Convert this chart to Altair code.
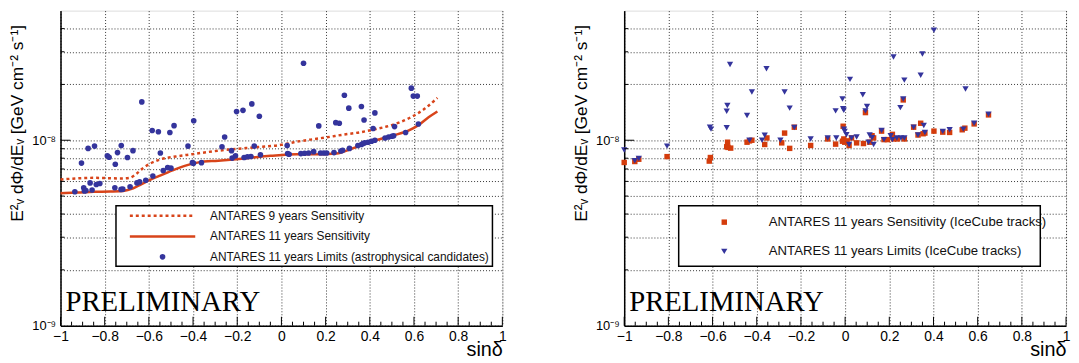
import altair as alt
import pandas as pd

# ---------------- data ----------------
# left panel: ANTARES 9 years sensitivity (dotted)
sens9_x = [-1.0, -0.85, -0.72, -0.686, -0.656, -0.627, -0.597, -0.553, -0.479, -0.404,
           -0.33, -0.256, -0.108, 0.0, 0.0565, 0.131, 0.205, 0.28, 0.354, 0.428,
           0.503, 0.577, 0.651, 0.706]
sens9_y = [6.14e-9, 6.27e-9, 6.22e-9, 6.27e-9, 6.6e-9, 7.07e-9, 7.45e-9, 7.85e-9, 8.17e-9, 8.41e-9,
           8.65e-9, 8.86e-9, 9.19e-9, 9.45e-9, 9.76e-9, 1.008e-8, 1.037e-8, 1.072e-8, 1.103e-8, 1.149e-8,
           1.211e-8, 1.314e-8, 1.486e-8, 1.693e-8]
# left panel: ANTARES 11 years sensitivity (solid)
sens11_x = [-1.0, -0.923, -0.849, -0.775, -0.716, -0.671, -0.641, -0.597, -0.553, -0.493,
            -0.434, -0.375, -0.286, -0.167, -0.049, 0.07, 0.131, 0.25, 0.309, 0.369,
            0.428, 0.503, 0.577, 0.622, 0.666, 0.706]
sens11_y = [5.18e-9, 5.22e-9, 5.27e-9, 5.29e-9, 5.33e-9, 5.51e-9, 5.73e-9, 6.09e-9, 6.42e-9, 6.88e-9,
            7.3e-9, 7.6e-9, 7.76e-9, 7.98e-9, 8.24e-9, 8.41e-9, 8.39e-9, 8.49e-9, 8.92e-9, 9.48e-9,
            1.0e-8, 1.059e-8, 1.13e-8, 1.21e-8, 1.33e-8, 1.43e-8]
# left panel: ANTARES 11 years limits (astrophysical candidates)
lim_x = [-0.935, -0.905, -0.895, -0.892, -0.885, -0.875, -0.866, -0.857, -0.846, -0.838,
         -0.822, -0.788, -0.78, -0.754, -0.752, -0.742, -0.726, -0.725, -0.718, -0.697,
         -0.685, -0.672, -0.654, -0.642, -0.632, -0.614, -0.585, -0.582, -0.557, -0.548,
         -0.535, -0.515, -0.505, -0.5, -0.486, -0.423, -0.403, -0.398, -0.397, -0.362,
         -0.269, -0.257, -0.226, -0.223, -0.208, -0.203, -0.174, -0.169, -0.154, -0.138,
         -0.134, -0.123, -0.1, -0.095, 0.026, 0.028, 0.035, 0.088, 0.1, 0.105,
         0.123, 0.146, 0.169, 0.177, 0.192, 0.205, 0.238, 0.246, 0.262, 0.269,
         0.277, 0.285, 0.305, 0.308, 0.346, 0.362, 0.362, 0.369, 0.374, 0.377,
         0.392, 0.408, 0.415, 0.423, 0.423, 0.469, 0.485, 0.5, 0.508, 0.512,
         0.562, 0.588, 0.597, 0.615, 0.62]
lim_y = [5.28e-9, 7.53e-9, 5.54e-9, 5.32e-9, 5.35e-9, 9.04e-9, 5.89e-9, 5.39e-9, 9.3e-9, 5.77e-9,
         5.84e-9, 8.24e-9, 8.1e-9, 5.54e-9, 7.42e-9, 8.58e-9, 5.43e-9, 9.37e-9, 5.45e-9, 8.07e-9,
         5.61e-9, 8.79e-9, 5.89e-9, 5.96e-9, 1.61e-8, 6.08e-9, 1.129e-8, 6.41e-9, 1.111e-8, 8.54e-9,
         6.87e-9, 7.12e-9, 1.102e-8, 7.07e-9, 1.199e-8, 9.3e-9, 7.57e-9, 7.51e-9, 1.274e-8, 7.57e-9,
         9.22e-9, 1.041e-8, 8.79e-9, 8.01e-9, 8.24e-9, 1.427e-8, 1.45e-8, 8.07e-9, 8.14e-9, 8.17e-9,
         1.57e-8, 9.3e-9, 1.348e-8, 8.34e-9, 9.37e-9, 8.47e-9, 8.41e-9, 8.47e-9, 2.6e-8, 8.51e-9,
         8.54e-9, 8.68e-9, 1.195e-8, 8.54e-9, 8.54e-9, 8.54e-9, 8.58e-9, 1.244e-8, 1.234e-8, 8.75e-9,
         8.82e-9, 1.75e-8, 1.49e-8, 9.04e-9, 9.37e-9, 9.49e-9, 1.52e-8, 9.6e-9, 1.285e-8, 9.68e-9,
         9.76e-9, 9.88e-9, 1.157e-8, 1.0e-8, 1.404e-8, 1.029e-8, 1.041e-8, 1.05e-8, 1.058e-8, 1.185e-8,
         1.102e-8, 1.91e-8, 1.73e-8, 1.73e-8, 1.224e-8]

# right panel: ANTARES 11 years sensitivity (IceCube tracks)
ic_sens_x = [-1.0, -0.952, -0.934, -0.806, -0.615, -0.61, -0.536, -0.532, -0.53, -0.518,
             -0.444, -0.433, -0.422, -0.364, -0.354, -0.287, -0.274, -0.251, -0.23, -0.156,
             -0.079, -0.043, -0.012, -0.009, -0.006, -0.002, 0.009, 0.018, 0.029, 0.052,
             0.083, 0.092, 0.111, 0.122, 0.129, 0.165, 0.176, 0.191, 0.214, 0.219,
             0.237, 0.263, 0.268, 0.31, 0.33, 0.342, 0.353, 0.361, 0.402, 0.442,
             0.473, 0.53, 0.542, 0.584, 0.649]
ic_sens_y = [7.59e-9, 7.68e-9, 7.9e-9, 8.16e-9, 7.72e-9, 8.07e-9, 9.22e-9, 9.76e-9, 9.15e-9, 9.07e-9,
             9.76e-9, 9.92e-9, 1.0e-8, 9.49e-9, 1.029e-8, 9.68e-9, 1.093e-8, 9.04e-9, 1.176e-8, 9.37e-9,
             1.016e-8, 9.53e-9, 9.88e-9, 1.19e-8, 1.016e-8, 9.76e-9, 9.92e-9, 9.37e-9, 1.029e-8, 9.68e-9,
             9.6e-9, 1.41e-8, 9.76e-9, 1.058e-8, 1.029e-8, 1.12e-8, 1.008e-8, 1.008e-8, 1.076e-8, 1.016e-8,
             1.016e-8, 1.65e-8, 1.016e-8, 1.176e-8, 1.067e-8, 1.235e-8, 1.084e-8, 1.093e-8, 1.12e-8, 1.106e-8,
             1.102e-8, 1.139e-8, 1.162e-8, 1.225e-8, 1.37e-8]
# right panel: ANTARES 11 years limits (IceCube tracks)
ic_lim_x = [-1.0, -0.952, -0.934, -0.806, -0.612, -0.607, -0.536, -0.533, -0.536, -0.521,
            -0.444, -0.433, -0.422, -0.376, -0.364, -0.356, -0.293, -0.274, -0.251, -0.23,
            -0.156, -0.079, -0.043, -0.04, -0.012, -0.009, -0.006, -0.005, -0.002, 0.006,
            0.018, 0.022, 0.029, 0.052, 0.08, 0.092, 0.099, 0.106, 0.111, 0.122,
            0.129, 0.165, 0.176, 0.206, 0.214, 0.219, 0.234, 0.25, 0.253, 0.263,
            0.268, 0.268, 0.31, 0.33, 0.342, 0.35, 0.356, 0.361, 0.402, 0.442,
            0.473, 0.545, 0.535, 0.584, 0.649]
ic_lim_y = [8.85e-9, 7.75e-9, 7.97e-9, 9.3e-9, 1.176e-8, 1.148e-8, 1.435e-8, 1.54e-8, 1.167e-8, 2.56e-8,
            1.36e-8, 1.0e-8, 1.82e-8, 1.0e-8, 1.063e-8, 2.43e-8, 1.0e-8, 1.82e-8, 1.49e-8, 1.171e-8,
            1.016e-8, 1.029e-8, 1.44e-8, 1.029e-8, 1.67e-8, 1.48e-8, 1.45e-8, 1.148e-8, 1.116e-8, 1.071e-8,
            9.49e-9, 2.13e-8, 1.029e-8, 1.041e-8, 1.76e-8, 1.44e-8, 1.52e-8, 9.76e-9, 1.067e-8, 1.033e-8,
            9.49e-9, 1.129e-8, 1.008e-8, 1.058e-8, 1.008e-8, 2.81e-8, 1.029e-8, 1.5e-8, 1.029e-8, 1.67e-8,
            2.11e-8, 1.029e-8, 1.176e-8, 1.067e-8, 2.24e-8, 2.92e-8, 1.2e-8, 1.102e-8, 3.92e-8, 1.116e-8,
            1.139e-8, 1.89e-8, 1.148e-8, 1.235e-8, 1.38e-8]

# axis tick values and texts
x_major = [-1.0, -0.8, -0.6, -0.4, -0.2, 0.0, 0.2, 0.4, 0.6, 0.8, 1.0]
x_minor = [round(-1 + 0.05 * i, 2) for i in range(41) if i % 4 != 0]
y_values = [1e-9, 2e-9, 3e-9, 4e-9, 5e-9, 6e-9, 7e-9, 8e-9, 9e-9,
            1e-8, 2e-8, 3e-8, 4e-8]
y_minor = [2e-9, 3e-9, 4e-9, 5e-9, 6e-9, 7e-9, 8e-9, 9e-9, 2e-8, 3e-8, 4e-8]
y_major = [1e-8]
y_title = "E²ᵥ dΦ/dEᵥ [GeV cm⁻² s⁻¹]"
x_title = "sinδ"
left_legend = ["ANTARES 9 years Sensitivity",
               "ANTARES 11 years Sensitivity",
               "ANTARES 11 years Limits (astrophysical candidates)"]
right_legend = ["ANTARES 11 years Sensitivity (IceCube tracks)",
                "ANTARES 11 years Limits (IceCube tracks)"]
watermark = "PRELIMINARY"

# ---------------- style ----------------
W, H = 446, 318
FONT = "Liberation Sans"
NAVY = "#34349c"
RED = "#d8441a"
SQ = "#d43c0c"

xsc = alt.Scale(domain=[-1, 1], nice=False, zero=False)
ysc = alt.Scale(type="log", domain=[1e-9, 5e-8], nice=False)

xaxis = alt.Axis(values=x_major, format=".1~f", grid=True, gridDash=[1, 2], gridColor="#000",
                 gridOpacity=0.8, ticks=False, domainColor="#000", domainWidth=1.5,
                 labelFont=FONT, labelFontSize=14, labelColor="#000", labelPadding=4,
                 labelFlush=False, labelOverlap=False,
                 title=x_title, titleFont=FONT, titleFontSize=20, titleFontWeight="normal",
                 titleColor="#000", titleAlign="right", titleBaseline="alphabetic",
                 titleX=W, titleY=30)

ylabel_expr = ("abs(log(datum.value)/LN10 + 8) < 0.01 ? '10⁻⁸' : "
               "(abs(log(datum.value)/LN10 + 9) < 0.01 ? '10⁻⁹' : '')")
yaxis = alt.Axis(values=y_values, labelExpr=ylabel_expr, grid=True, gridDash=[1, 2],
                 gridColor="#000", gridOpacity=0.8, ticks=False, domainColor="#000",
                 domainWidth=1.5, labelFont=FONT, labelFontSize=13, labelColor="#000",
                 labelPadding=5, labelOverlap=False,
                 title=y_title, titleFont=FONT, titleFontSize=17.5, titleFontWeight="normal",
                 titleColor="#000", titleAngle=270, titleAlign="right", titleBaseline="middle",
                 titleX=-43, titleY=14)

one = pd.DataFrame({"k": [0]})


def X(field):
    return alt.X(f"{field}:Q", scale=xsc, axis=xaxis)


def Y(field):
    return alt.Y(f"{field}:Q", scale=ysc, axis=yaxis)


def frame_layers():
    xmin = alt.Chart(pd.DataFrame({"v": x_minor})).mark_rule(color="#000", strokeWidth=1).encode(
        x=X("v"), y=alt.value(H), y2=alt.value(H - 4))
    xmaj = alt.Chart(pd.DataFrame({"v": x_major})).mark_rule(color="#000", strokeWidth=1).encode(
        x=X("v"), y=alt.value(H), y2=alt.value(H - 9))
    ymin = alt.Chart(pd.DataFrame({"v": y_minor})).mark_rule(color="#000", strokeWidth=1).encode(
        y=Y("v"), x=alt.value(0), x2=alt.value(4))
    ymaj = alt.Chart(pd.DataFrame({"v": y_major})).mark_rule(color="#000", strokeWidth=1).encode(
        y=Y("v"), x=alt.value(0), x2=alt.value(10))
    prelim = alt.Chart(one).mark_text(font="Liberation Serif", fontSize=29, align="left",
                                      baseline="alphabetic", color="#000").encode(
        x=alt.value(5), y=alt.value(H - 15), text=alt.value(watermark))
    return [xmin, xmaj, ymin, ymaj, prelim]


def legend_box(x0, x1, y0, y1):
    return alt.Chart(one).mark_rect(fill="white", stroke="#000", strokeWidth=1.5).encode(
        x=alt.value(x0), x2=alt.value(x1), y=alt.value(y0), y2=alt.value(y1))


def legend_text(label, x, y, size):
    return alt.Chart(one).mark_text(font=FONT, fontSize=size, align="left", baseline="middle",
                                    color="#111").encode(
        x=alt.value(x), y=alt.value(y), text=alt.value(label))


# ---------------- left panel ----------------
df9 = pd.DataFrame({"x": sens9_x, "y": sens9_y})
df11 = pd.DataFrame({"x": sens11_x, "y": sens11_y})
dflim = pd.DataFrame({"x": lim_x, "y": lim_y})

line9 = alt.Chart(df9).mark_line(color=RED, strokeWidth=2.5, strokeDash=[3, 3],
                                 interpolate="monotone").encode(x=X("x"), y=Y("y"))
line11 = alt.Chart(df11).mark_line(color=RED, strokeWidth=2.5,
                                   interpolate="monotone").encode(x=X("x"), y=Y("y"))
dots = alt.Chart(dflim).mark_circle(color=NAVY, size=32, opacity=1).encode(x=X("x"), y=Y("y"))

lg_rows = [207, 228, 248.5]
left_leg = [
    legend_box(56, 436, 197, 258),
    alt.Chart(one).mark_rule(color=RED, strokeWidth=2.5, strokeDash=[3, 3]).encode(
        x=alt.value(70), x2=alt.value(136), y=alt.value(lg_rows[0])),
    alt.Chart(one).mark_rule(color=RED, strokeWidth=2.5).encode(
        x=alt.value(70), x2=alt.value(136), y=alt.value(lg_rows[1])),
    alt.Chart(one).mark_circle(color=NAVY, size=32, opacity=1).encode(
        x=alt.value(103), y=alt.value(lg_rows[2])),
    legend_text(left_legend[0], 151, lg_rows[0], 12),
    legend_text(left_legend[1], 151, lg_rows[1], 12),
    legend_text(left_legend[2], 151, lg_rows[2], 12),
]

left = alt.layer(*([line9, line11, dots] + frame_layers() + left_leg)).properties(width=W, height=H)

# ---------------- right panel ----------------
dfs = pd.DataFrame({"x": ic_sens_x, "y": ic_sens_y})
dfl = pd.DataFrame({"x": ic_lim_x, "y": ic_lim_y})

squares = alt.Chart(dfs).mark_square(color=SQ, size=30, opacity=1).encode(x=X("x"), y=Y("y"))
tris = alt.Chart(dfl).mark_point(shape="triangle-down", filled=True, color=NAVY, size=40,
                                 opacity=1).encode(x=X("x"), y=Y("y"))

rg_rows = [213.5, 243]
right_leg = [
    legend_box(55, 420, 197, 258),
    alt.Chart(one).mark_square(color=SQ, size=30, opacity=1).encode(
        x=alt.value(101), y=alt.value(rg_rows[0])),
    alt.Chart(one).mark_point(shape="triangle-down", filled=True, color=NAVY, size=40,
                              opacity=1).encode(x=alt.value(101), y=alt.value(rg_rows[1])),
    legend_text(right_legend[0], 146, rg_rows[0], 13.3),
    legend_text(right_legend[1], 146, rg_rows[1], 13.3),
]

right = alt.layer(*([squares, tris] + frame_layers() + right_leg)).properties(width=W, height=H)

chart = alt.hconcat(left, right, spacing=65).properties(
    padding={"left": 0, "top": 0, "right": 0, "bottom": 0}
).configure_view(stroke="#000", strokeWidth=1.5).configure(background="white")

chart.save("out.html", embed_options={"renderer": "svg", "actions": False})
